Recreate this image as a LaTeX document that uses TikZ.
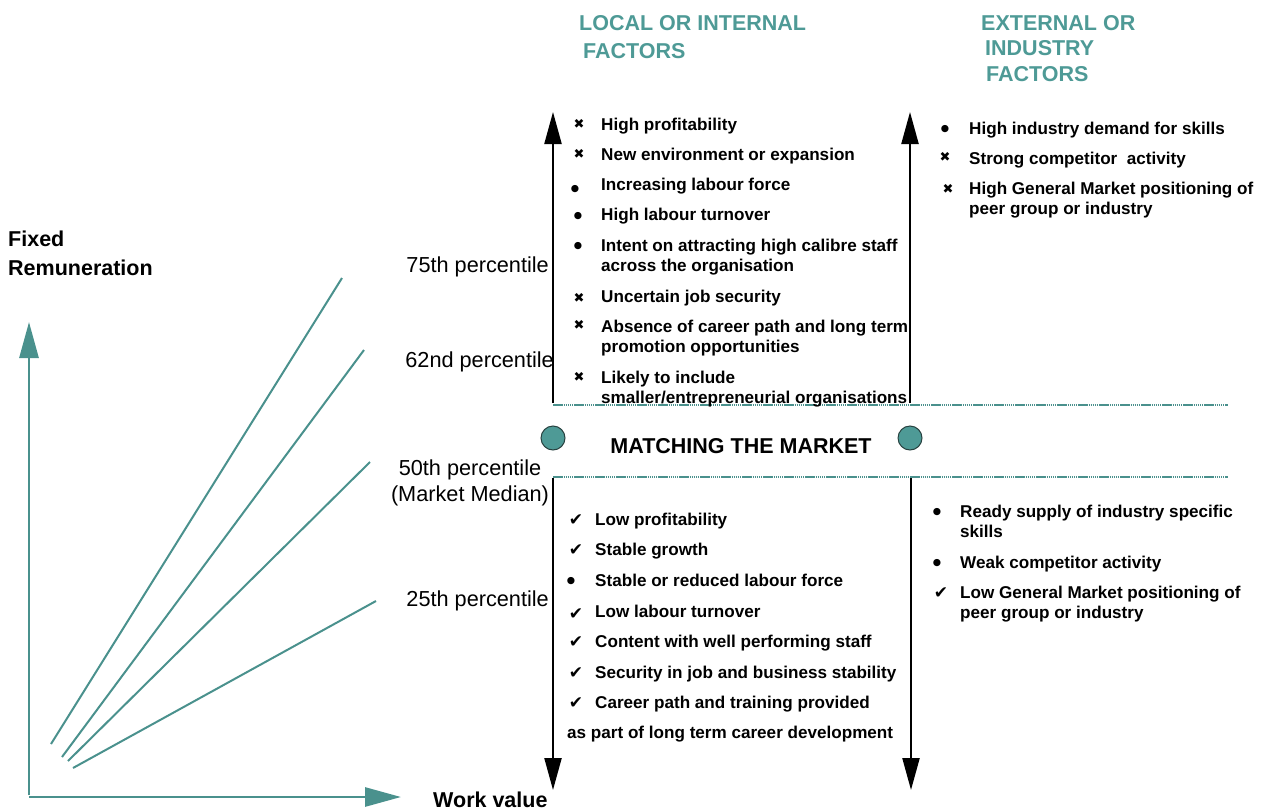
\documentclass[tikz,border=0pt]{standalone}
\usepackage{fontspec}
\setmainfont{Liberation Sans}
\newfontfamily\symfont{DejaVu Sans}
\usetikzlibrary{arrows.meta}
\definecolor{tealc}{RGB}{78,154,150}
\definecolor{teald}{RGB}{74,145,141}
\definecolor{tealo}{RGB}{40,66,64}
\begin{document}
\begin{tikzpicture}[x=1pt,y=-1pt,
  big/.style={font=\fontsize{21.5}{24}\selectfont\bfseries, inner sep=0pt, anchor=base west},
  head/.style={big, text=tealc},
  item/.style={font=\fontsize{17.1}{20}\selectfont\bfseries, inner sep=0pt, anchor=base west},
  pct/.style={font=\fontsize{21.7}{24}\selectfont, inner sep=0pt, anchor=base east},
  xmk/.style={font=\symfont\fontsize{13}{14}\selectfont, inner sep=0pt, anchor=base},
  bmk/.style={font=\symfont\fontsize{9.5}{12}\selectfont, inner sep=0pt, anchor=base},
  cmk/.style={font=\symfont\fontsize{17}{18}\selectfont, inner sep=0pt, anchor=base},
  blackarrow/.style={line width=2.2pt, -{Triangle[length=32pt,width=17pt]}},
  axis/.style={draw=teald, line width=2.8pt, -{Triangle[length=36pt,width=19pt]}},
  ray/.style={draw=teald, line width=2pt},
  sep/.style={draw=teald, line width=1.6pt, dash pattern=on 1.5pt off 0.6pt},
  dot/.style={circle, fill=tealc, draw=tealo, line width=1pt, minimum size=24pt, inner sep=0pt}
]
\useasboundingbox (0,0) rectangle (1266,811);

% axes
\coordinate (o) at (29,797);
\coordinate (ytip) at (29,322);
\coordinate (xtip) at (401,797);
\draw[axis] (29,795) -- (ytip);
\draw[axis] (o) -- (xtip);
\node[big] (fixed) at (8,246) {Fixed};
\node[big] (remun) at (8,275) {Remuneration};
\node[big] (work) at (433,807) {Work value};

% rays
\coordinate (r1a) at (51,744); \coordinate (r1b) at (342,278);
\coordinate (r2a) at (62,757); \coordinate (r2b) at (364,350);
\coordinate (r3a) at (68,761); \coordinate (r3b) at (370,462);
\coordinate (r4a) at (73,768); \coordinate (r4b) at (376,601);
\draw[ray] (r1a) -- (r1b);
\draw[ray] (r2a) -- (r2b);
\draw[ray] (r3a) -- (r3b);
\draw[ray] (r4a) -- (r4b);

% percentile labels
\node[pct] (p75) at (549,272) {75th percentile};
\node[pct] (p62) at (554,367) {62nd percentile};
\node[pct, anchor=base] (p50) at (470,475) {50th percentile};
\node[pct, anchor=base] (pmed) at (470,501) {(Market Median)};
\node[pct] (p25) at (549,606) {25th percentile};

% headings
\node[head] (h1a) at (579,30) {LOCAL OR INTERNAL};
\node[head] (h1b) at (583,58) {FACTORS};
\node[head] (h2a) at (981,30) {EXTERNAL OR};
\node[head] (h2b) at (985,55) {INDUSTRY};
\node[head] (h2c) at (986,81) {FACTORS};

% black arrows
\coordinate (lu0) at (553,403); \coordinate (lu1) at (553,112);
\coordinate (ru0) at (910,403); \coordinate (ru1) at (910,112);
\coordinate (ld0) at (553,478); \coordinate (ld1) at (553,790);
\coordinate (rd0) at (911,478); \coordinate (rd1) at (911,790);
\draw[blackarrow] (lu0) -- (lu1);
\draw[blackarrow] (ru0) -- (ru1);
\draw[blackarrow] (ld0) -- (ld1);
\draw[blackarrow] (rd0) -- (rd1);

% separators
\coordinate (s1a) at (553,405); \coordinate (s1b) at (1228,405);
\coordinate (s2a) at (553,477); \coordinate (s2b) at (1228,477);
\draw[sep] (s1a) -- (s1b);
\draw[sep] (s2a) -- (s2b);

% circles and title
\node[dot] (c1) at (553,438) {};
\node[dot] (c2) at (910,438) {};
\node[big, anchor=base] (match) at (741,453) {MATCHING THE MARKET};

% upper left list
\node[xmk] (m1) at (579,128) {✖};
\node[item] (t1) at (601,130) {High profitability};
\node[xmk] (m2) at (579,158) {✖};
\node[item] (t2) at (601,160) {New environment or expansion};
\node[bmk] (m3) at (575,191) {●};
\node[item] (t3) at (601,190) {Increasing labour force};
\node[bmk] (m4) at (578,218) {●};
\node[item] (t4) at (601,220) {High labour turnover};
\node[bmk] (m5) at (578,248) {●};
\node[item] (t5a) at (601,251) {Intent on attracting high calibre staff};
\node[item] (t5b) at (601,271) {across the organisation};
\node[xmk] (m6) at (579,302) {✖};
\node[item] (t6) at (601,302) {Uncertain job security};
\node[xmk] (m7) at (579,329) {✖};
\node[item] (t7a) at (601,332) {Absence of career path and long term};
\node[item] (t7b) at (601,352) {promotion opportunities};
\node[xmk] (m8) at (579,381) {✖};
\node[item] (t8a) at (601,383) {Likely to include};
\node[item] (t8b) at (601,403) {smaller/entrepreneurial organisations};

% upper right list
\node[bmk] (n1) at (945,131) {●};
\node[item] (u1) at (969,134) {High industry demand for skills};
\node[xmk] (n2) at (945,161) {✖};
\node[item] (u2) at (969,164) {Strong competitor\ \ activity};
\node[xmk] (n3) at (948,193) {✖};
\node[item] (u3a) at (969,194) {High General Market positioning of};
\node[item] (u3b) at (969,214) {peer group or industry};

% lower left list
\node[cmk] (k1) at (576,525) {✔};
\node[item] (v1) at (595,525) {Low profitability};
\node[cmk] (k2) at (576,555) {✔};
\node[item] (v2) at (595,555) {Stable growth};
\node[bmk] (k3) at (571,583) {●};
\node[item] (v3) at (595,586) {Stable or reduced labour force};
\node[cmk] (k4) at (576,619) {✔};
\node[item] (v4) at (595,617) {Low labour turnover};
\node[cmk] (k5) at (576,647) {✔};
\node[item] (v5) at (595,647) {Content with well performing staff};
\node[cmk] (k6) at (576,678) {✔};
\node[item] (v6) at (595,678) {Security in job and business stability};
\node[cmk] (k7) at (576,708) {✔};
\node[item] (v7) at (595,708) {Career path and training provided};
\node[item] (v8) at (567,738) {as part of long term career development};

% lower right list
\node[bmk] (q1) at (937,514) {●};
\node[item] (w1a) at (960,517) {Ready supply of industry specific};
\node[item] (w1b) at (960,537) {skills};
\node[bmk] (q2) at (937,565) {●};
\node[item] (w2) at (960,568) {Weak competitor activity};
\node[cmk] (q3) at (941,598) {✔};
\node[item] (w3a) at (960,598) {Low General Market positioning of};
\node[item] (w3b) at (960,618) {peer group or industry};
\end{tikzpicture}
\end{document}
